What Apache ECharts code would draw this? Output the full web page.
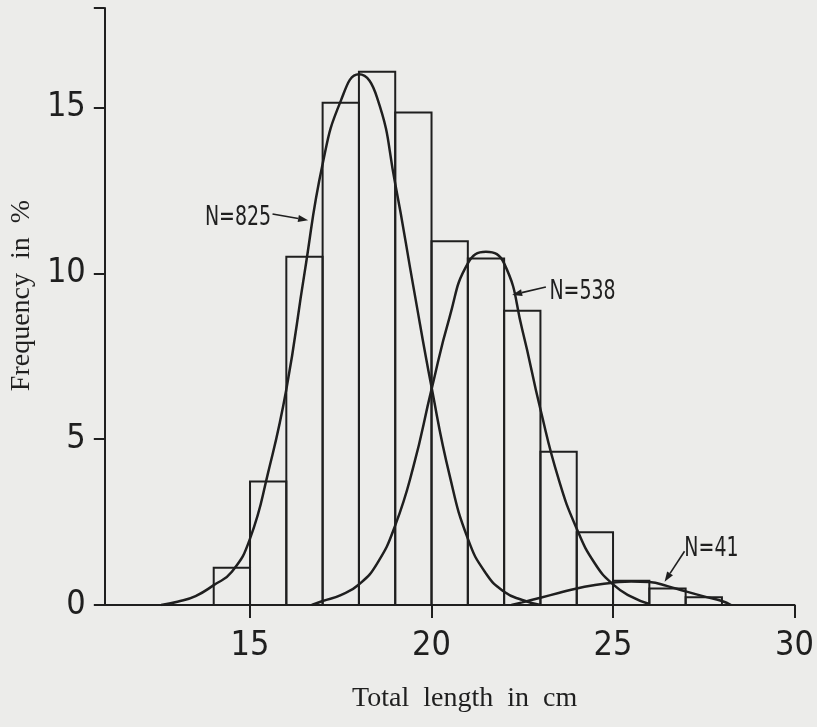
<!DOCTYPE html>
<html>
<head>
<meta charset="utf-8">
<script src="https://cdn.jsdelivr.net/npm/echarts@6/dist/echarts.min.js"></script>
<style>
html,body{margin:0;padding:0;background:#ececea;}
#chart{width:817px;height:727px;}
</style>
</head>
<body>
<div id="chart"></div>
<script>
// ---- data ----
const binLeft = [14, 15, 16, 17, 18, 19, 20, 21, 22, 23, 24, 25, 26, 27];
const binWidth = 1;
const freq = [1.12, 3.72, 10.5, 15.14, 16.08, 14.85, 10.97, 10.45, 8.87, 4.62, 2.19, 0.73, 0.5, 0.23];

const curve825X = [12.55, 13, 13.5, 14, 14.5, 15, 15.5, 16, 16.5, 17, 17.5, 18, 18.5, 19, 19.5, 20, 20.5, 21, 21.5, 22, 22.5, 23];
const curve825Y = [0, 0.1, 0.27, 0.6, 1.0, 2.0, 4.0, 6.5, 10.0, 13.3, 15.2, 16.0, 15.3, 12.7, 9.6, 6.57, 3.9, 2.0, 0.95, 0.4, 0.15, 0];

const curve538X = [16.7, 17, 17.5, 18, 18.5, 19, 19.5, 20, 20.5, 21, 21.5, 22, 22.5, 23, 23.5, 24, 24.5, 25, 25.5, 26];
const curve538Y = [0, 0.12, 0.3, 0.62, 1.25, 2.4, 4.17, 6.5, 8.69, 10.3, 10.65, 10.3, 8.3, 5.9, 3.8, 2.3, 1.25, 0.62, 0.25, 0.03];

const curve41X = [22.2, 22.5, 23, 23.5, 24, 24.5, 25, 25.5, 26, 26.5, 27, 27.5, 28, 28.25];
const curve41Y = [0, 0.08, 0.22, 0.36, 0.5, 0.6, 0.67, 0.71, 0.69, 0.57, 0.41, 0.26, 0.12, 0];

const xTicks = [15, 20, 25, 30];
const yTicks = [0, 5, 10, 15];
const curveLabels = ['N=825', 'N=538', 'N=41'];

// ---- chart ----
const ink = '#1f1f1f';
const narrow = '"Liberation Sans Narrow", "DejaVu Sans Condensed", sans-serif';
const serif = '"Liberation Serif", "DejaVu Serif", serif';

const chart = echarts.init(document.getElementById('chart'), null, {renderer: 'canvas'});

const zip = (xs, ys) => xs.map((x, i) => [x, ys[i]]);
const lineStyle = {color: ink, width: 2.5};

const option = {
  backgroundColor: '#ececea',
  animation: false,
  grid: {left: 103, right: 18, top: 8, bottom: 122, containLabel: false},
  xAxis: {
    type: 'value', min: 11, max: 30,
    name: 'Total  length  in  cm', nameLocation: 'middle', nameGap: 80,
    nameTextStyle: {fontFamily: serif, fontSize: 28, color: ink, padding: [0, 0, 0, 30]},
    axisLine: {show: true, lineStyle: {color: ink, width: 2}},
    axisTick: {show: true, customValues: xTicks, length: 13, inside: false, lineStyle: {color: ink, width: 2}},
    axisLabel: {customValues: xTicks, fontFamily: narrow, fontSize: 34, color: ink, margin: 24},
    splitLine: {show: false}
  },
  yAxis: {
    type: 'value', min: 0, max: 18, interval: 5,
    name: 'Frequency  in  %', nameLocation: 'middle', nameGap: 66,
    nameTextStyle: {fontFamily: serif, fontSize: 28, color: ink, padding: [0, 0, 0, 22]},
    axisLine: {show: true, lineStyle: {color: ink, width: 2}},
    axisTick: {show: true, length: 11, lineStyle: {color: ink, width: 2}},
    axisLabel: {fontFamily: narrow, fontSize: 34, color: ink, margin: 19,
      formatter: v => (yTicks.indexOf(v) >= 0 ? String(v) : '')},
    splitLine: {show: false}
  },
  series: [
    {
      type: 'custom',
      name: 'histogram',
      data: binLeft.map((x, i) => [x, x + binWidth, freq[i]]),
      encode: {x: [0, 1], y: 2},
      renderItem: function (params, api) {
        const p0 = api.coord([api.value(0), api.value(2)]);
        const p1 = api.coord([api.value(1), 0]);
        return {
          type: 'rect',
          shape: {x: p0[0], y: p0[1], width: p1[0] - p0[0], height: p1[1] - p0[1]},
          style: {fill: 'none', stroke: ink, lineWidth: 2}
        };
      },
      z: 2
    },
    {type: 'line', name: curveLabels[0], data: zip(curve825X, curve825Y), smooth: 0.5, showSymbol: false, lineStyle, z: 3},
    {type: 'line', name: curveLabels[1], data: zip(curve538X, curve538Y), smooth: 0.5, showSymbol: false, lineStyle, z: 3},
    {type: 'line', name: curveLabels[2], data: zip(curve41X, curve41Y), smooth: 0.5, showSymbol: false, lineStyle, z: 3}
  ]
};
chart.setOption(option);

// annotation labels with arrows (positions in data space)
const notes = [
  {label: curveLabels[0], at: [14.67, 11.67], from: [15.62, 11.79], to: [16.6, 11.6]},
  {label: curveLabels[1], at: [24.16, 9.44], from: [23.15, 9.59], to: [22.22, 9.35]},
  {label: curveLabels[2], at: [27.71, 1.69], from: [26.97, 1.62], to: [26.42, 0.7]}
];
const px = p => chart.convertToPixel({gridIndex: 0}, p);
const graphics = [];
notes.forEach(n => {
  const c = px(n.at), a = px(n.from), b = px(n.to);
  graphics.push({type: 'text', x: c[0], y: c[1], scaleX: 0.78, z: 10,
    style: {text: n.label, font: '27px ' + narrow, fill: ink, align: 'center', verticalAlign: 'middle'}});
  const dx = b[0] - a[0], dy = b[1] - a[1];
  const L = Math.sqrt(dx * dx + dy * dy), ux = dx / L, uy = dy / L;
  const hl = 10, hw = 3.5;
  const bx = b[0] - ux * hl, by = b[1] - uy * hl;
  graphics.push({type: 'line', z: 10, shape: {x1: a[0], y1: a[1], x2: bx, y2: by}, style: {stroke: ink, lineWidth: 1.6}});
  graphics.push({type: 'polygon', z: 10,
    shape: {points: [[b[0], b[1]], [bx - uy * hw, by + ux * hw], [bx + uy * hw, by - ux * hw]]},
    style: {fill: ink}});
});
chart.setOption({graphic: graphics});
</script>
</body>
</html>
